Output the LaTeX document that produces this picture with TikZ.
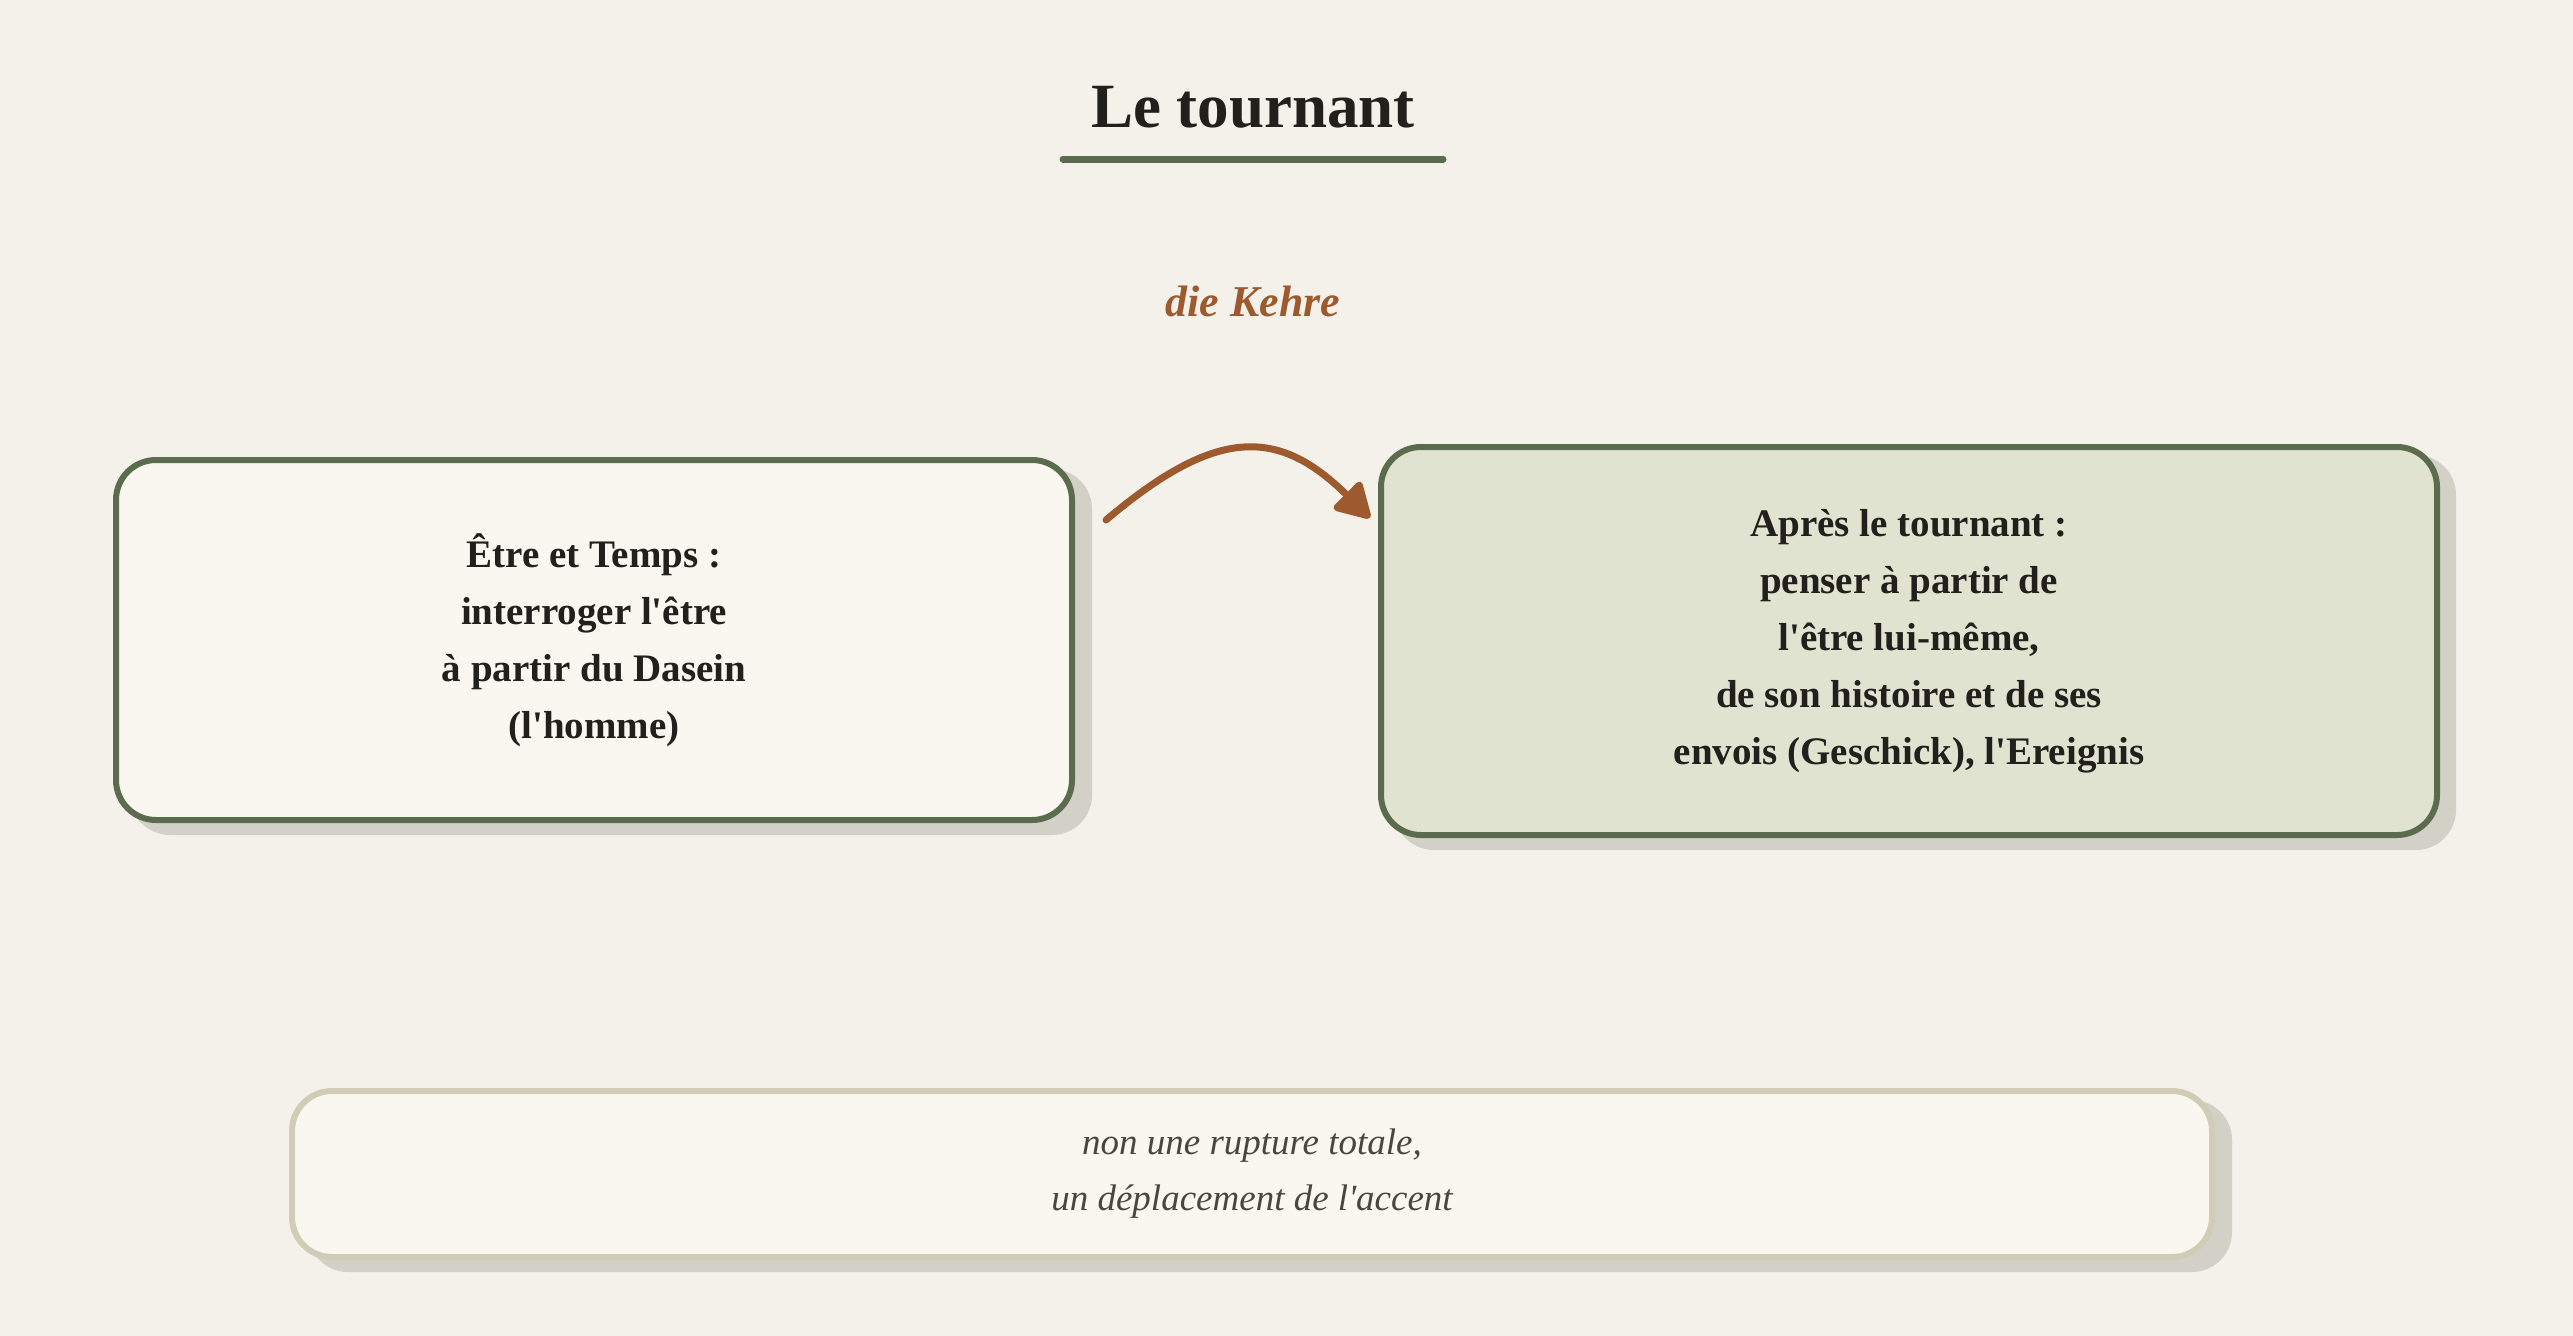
\documentclass[tikz,border=0pt]{standalone}
\usepackage{fontspec}
\setmainfont{Liberation Serif}[Ligatures=TeXOff]
\usetikzlibrary{arrows.meta,calc}
\definecolor{bg}{HTML}{F4F1EA}
\definecolor{boxfill}{HTML}{FAF7F0}
\definecolor{dgreen}{HTML}{5B6B4E}
\definecolor{gfill}{HTML}{DFE3CF}
\definecolor{shade}{HTML}{D3D0C8}
\definecolor{brown}{HTML}{9C5A2E}
\definecolor{pale}{HTML}{D0CCB5}
\definecolor{ink}{HTML}{22201C}
\definecolor{softink}{HTML}{4A4540}
\tikzset{
  cardbox/.style={rectangle, rounded corners=40pt, line width=6pt, align=center,
    text=ink, font=\bfseries\fontsize{39}{57}\selectfont, inner sep=0pt},
  leftcard/.style={cardbox, draw=dgreen, fill=boxfill},
  rightcard/.style={cardbox, draw=dgreen, fill=gfill},
  notecard/.style={cardbox, draw=pale, fill=boxfill, text=softink,
    font=\itshape\fontsize{37}{56}\selectfont},
  shadowbox/.style={fill=shade, rounded corners=40pt},
  turnarrow/.style={draw=brown, line width=7pt, line cap=round,
    -{Triangle[length=38pt,width=42pt,round]}},
}
\begin{document}
\begin{tikzpicture}[x=1pt,y=-1pt]
\useasboundingbox (0,0) rectangle (2573,1336);
\fill[bg] (0,0) rectangle (2573,1336);

% title
\node[anchor=base, text=ink, font=\bfseries\fontsize{63}{70}\selectfont] (title) at (1253,127) {Le tournant};
\draw[dgreen, line width=7pt, line cap=round] (1063,159) -- (1443,159);
\node[anchor=base, text=brown, font=\bfseries\itshape\fontsize{44}{50}\selectfont] (kehre) at (1253,316) {die Kehre};

% shadows
\fill[shadowbox] (130,469) rectangle (1092,835);
\fill[shadowbox] (1394,455) rectangle (2456,850);
\fill[shadowbox] (308,1100) rectangle (2232,1272);

% boxes
\node[leftcard, minimum width=956pt, minimum height=360pt] (left) at (594,640)
  {Être et Temps :\\interroger l'être\\à partir du Dasein\\(l'homme)};
\node[rightcard, minimum width=1056pt, minimum height=388pt] (right) at (1909,641)
  {\rule{0pt}{3pt}Après le tournant :\\penser à partir de\\l'être lui-même,\\de son histoire et de ses\\envois (Geschick), l'Ereignis};
\node[notecard, minimum width=1920pt, minimum height=166pt] (note) at (1252,1174)
  {\rule{0pt}{3pt}non une rupture totale,\\un déplacement de l'accent\rule[-8pt]{0pt}{1pt}};

% arrow
\draw[turnarrow] ([xshift=31pt,yshift=-63pt]left.north east)
  .. controls (1216,427) and (1278,427) ..
  ([xshift=-8pt,yshift=-74pt]right.north west);
\end{tikzpicture}
\end{document}
